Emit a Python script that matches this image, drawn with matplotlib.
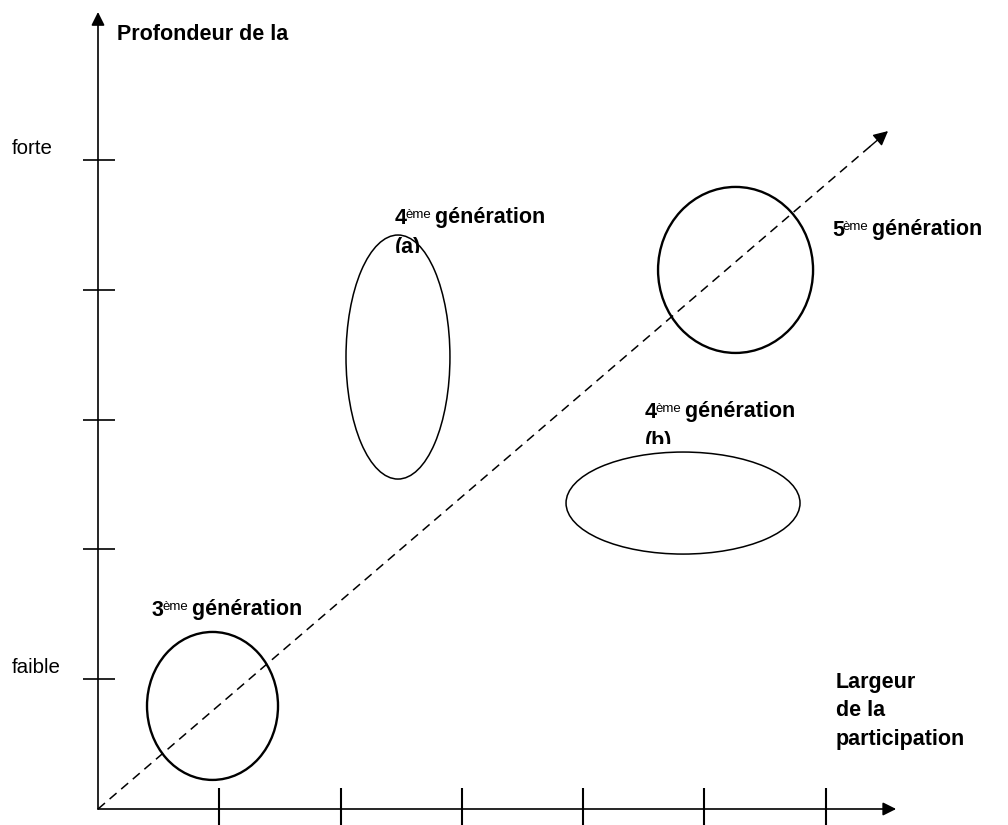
import matplotlib
matplotlib.use("Agg")
import matplotlib.pyplot as plt
from matplotlib.patches import Ellipse
from matplotlib.transforms import Affine2D, Bbox, TransformedBbox

plt.rcParams['font.family'] = ['Liberation Sans', 'DejaVu Sans']

# grid units: one step per tick, origin at the crossing of the axes
x_ticks = [1, 2, 3, 4, 5, 6]
y_ticks = [1, 2, 3, 4, 5]
y_tick_labels = {1: "faible", 5: "forte"}

# generations (ellipses): centre, width, height
gen_num = ["3", "4", "4", "5"]
gen_suffix = ["", "(a)", "(b)", ""]
ell_x = [0.944, 2.473, 4.823, 5.256]
ell_y = [0.794, 3.482, 2.357, 4.153]
ell_w = [1.080, 0.857, 1.929, 1.278]
ell_h = [1.140, 1.880, 0.786, 1.279]

# diagonal trend arrow
trend_start = (0.0, 0.0)
trend_end = (6.513, 5.223)

W, H = 1008, 825
fig = plt.figure(figsize=(W / 100, H / 100), dpi=100)
ax = fig.add_axes([0, 0, 1, 1])
ux, uy = 121.3, 129.8      # pixels per grid unit
ox, oy = 98, 809           # pixel position of origin
ax.set_xlim(-ox / ux, (W - ox) / ux)
ax.set_ylim(-(H - oy) / uy, oy / uy)
ax.axis("off")

# pixel transform (origin top-left) for text placement
pix = Affine2D().scale(1 / 100, -1 / 100).translate(0, H / 100) + fig.dpi_scale_trans

# axes with arrows
ax.annotate("", xy=(0, 6.14), xytext=(0, 0),
            arrowprops=dict(arrowstyle="-|>", lw=1.2, color="black",
                            mutation_scale=20, shrinkA=0, shrinkB=0))
ax.annotate("", xy=(6.58, 0), xytext=(0, 0),
            arrowprops=dict(arrowstyle="-|>", lw=1.2, color="black",
                            mutation_scale=20, shrinkA=0, shrinkB=0))

# ticks
for t in x_ticks:
    ax.plot([t, t], [0.162, -0.2], color="black", lw=1.5, solid_capstyle="butt")
for t in y_ticks:
    ax.plot([-0.124, 0.14], [t, t], color="black", lw=1.2, solid_capstyle="butt")

# dashed diagonal with solid head
ax.plot([trend_start[0], trend_end[0] - 0.12], [trend_start[1], trend_end[1] - 0.096],
        color="black", lw=1.1, linestyle=(0, (6, 4)))
ax.annotate("", xy=trend_end, xytext=(trend_end[0] - 0.15, trend_end[1] - 0.12),
            arrowprops=dict(arrowstyle="-|>", lw=1.0, color="black",
                            mutation_scale=22, shrinkA=0, shrinkB=0))

# ellipses
lws = [1.7, 1.1, 1.1, 1.7]
for i in range(len(gen_num)):
    ax.add_patch(Ellipse((ell_x[i], ell_y[i]), ell_w[i], ell_h[i], fill=False,
                         edgecolor="black", lw=lws[i], zorder=3))

# axis titles
fs = 15.5
ax.text(117, 35, "Profondeur de la", transform=pix, fontsize=fs, fontweight="bold",
        va="center", ha="left")
ax.text(836, 711, "Largeur\nde la\nparticipation", transform=pix, fontsize=fs,
        fontweight="bold", va="center", ha="left", linespacing=1.45)
for t, lab in y_tick_labels.items():
    ax.text(12, oy - t * uy - 12, lab, transform=pix, fontsize=14.8, va="center", ha="left")


def gen_label(x, y, num):
    t1 = ax.text(x, y, num, transform=pix, fontsize=fs, va="center", ha="left",
                 fontweight="bold")
    t2 = ax.annotate("ème", xy=(1, 1), xycoords=t1, xytext=(-1.2, -1),
                     textcoords="offset points", fontsize=9.5, va="top", ha="left")
    t3 = ax.annotate(" génération", xy=(1, 0), xycoords=(t2, t1), xytext=(-1.5, 0),
                     textcoords="offset points", fontsize=fs,
                     fontweight="bold", va="bottom", ha="left")
    return t3


label_pos = [(152, 610), (395, 218), (645, 412), (832, 230)]
sub_pos = [None, (395, 248, 253), (645, 442, 444), None]
for i in range(len(gen_num)):
    gen_label(label_pos[i][0], label_pos[i][1], gen_num[i])
    if sub_pos[i] is not None:
        sx, sy, cut = sub_pos[i]
        # the text box is cut off below, as in the original drawing
        box = TransformedBbox(Bbox.from_extents(0, (H - cut) / 100, W / 100, H / 100),
                              fig.dpi_scale_trans)
        st = ax.text(sx, sy, gen_suffix[i], transform=pix, fontsize=fs,
                     fontweight="bold", va="center", ha="left")
        st.set_clip_box(box)
        st.set_clip_on(True)

fig.savefig("out.png", dpi=100)
